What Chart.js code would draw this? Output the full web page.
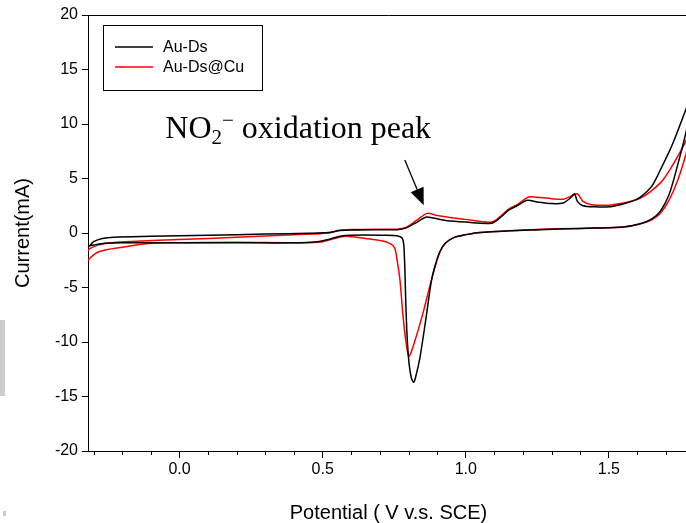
<!DOCTYPE html>
<html>
<head>
<meta charset="utf-8">
<script src="https://cdn.jsdelivr.net/npm/chart.js@4.4.0/dist/chart.umd.min.js"></script>
<style>
  html, body { margin: 0; padding: 0; background: #fff; overflow: hidden; }
  #wrap { width: 692px; height: 523px; }
</style>
</head>
<body>
<div id="wrap"><canvas id="cv"></canvas></div>
<script>
const seriesNames = ['Au-Ds', 'Au-Ds@Cu'];
const seriesColors = ['#000000', '#ff0000'];

// Au-Ds: anodic sweep (left -> right), then cathodic sweep (right -> left)
const auDsAnodicV = [-0.35, -0.32, -0.30, -0.27, -0.23, -0.1, 0.1, 0.3, 0.45, 0.52, 0.56, 0.6, 0.7, 0.76, 0.79, 0.83, 0.86, 0.89, 0.93, 1.0, 1.09, 1.12, 1.15, 1.18, 1.215, 1.25, 1.30, 1.34, 1.365, 1.38, 1.39, 1.41, 1.45, 1.50, 1.54, 1.58, 1.61, 1.65, 1.68, 1.72, 1.77, 1.80];
const auDsAnodicI = [-1.7, -1.3, -0.8, -0.5, -0.38, -0.3, -0.2, -0.1, -0.02, 0.05, 0.22, 0.28, 0.3, 0.3, 0.45, 1.0, 1.45, 1.35, 1.15, 1.0, 0.9, 1.4, 2.1, 2.5, 3.0, 2.85, 2.7, 2.75, 3.2, 3.6, 2.9, 2.5, 2.4, 2.4, 2.6, 2.9, 3.3, 4.3, 5.8, 8.0, 11.4, 13.5];
const auDsCathodicV = [1.77, 1.74, 1.71, 1.68, 1.65, 1.61, 1.55, 1.45, 1.35, 1.26, 1.15, 1.05, 1.0, 0.96, 0.93, 0.91, 0.895, 0.88, 0.86, 0.84, 0.825, 0.818, 0.81, 0.802, 0.795, 0.79, 0.786, 0.78, 0.76, 0.7, 0.6, 0.56, 0.52, 0.48, 0.4, 0.2, 0.0, -0.2, -0.26, -0.30, -0.32, -0.35];
const auDsCathodicI = [9.3, 6.2, 3.5, 2.0, 1.3, 0.85, 0.55, 0.45, 0.38, 0.3, 0.2, 0.05, -0.15, -0.4, -0.9, -1.7, -2.8, -4.4, -8.0, -11.4, -13.2, -13.7, -13.3, -12.0, -9.5, -6.0, -2.5, -0.6, -0.25, -0.2, -0.2, -0.3, -0.6, -0.8, -0.9, -0.9, -0.9, -0.9, -0.95, -1.1, -1.2, -1.7];

// Au-Ds@Cu
const auDsCuAnodicV = [-0.35, -0.32, -0.30, -0.27, -0.22, -0.15, 0.0, 0.2, 0.4, 0.52, 0.56, 0.6, 0.7, 0.76, 0.79, 0.83, 0.865, 0.9, 0.95, 1.0, 1.09, 1.12, 1.15, 1.18, 1.22, 1.26, 1.30, 1.34, 1.37, 1.39, 1.41, 1.44, 1.50, 1.54, 1.61, 1.68, 1.72, 1.77, 1.80];
const auDsCuAnodicI = [-3.8, -1.6, -1.25, -1.0, -0.85, -0.75, -0.6, -0.4, -0.15, 0.0, 0.25, 0.32, 0.35, 0.35, 0.5, 1.2, 1.8, 1.6, 1.4, 1.25, 1.0, 1.5, 2.2, 2.6, 3.3, 3.25, 3.15, 3.1, 3.4, 3.6, 2.9, 2.6, 2.55, 2.7, 3.2, 4.6, 6.1, 8.5, 10.5];
const auDsCuCathodicV = [1.77, 1.74, 1.71, 1.68, 1.65, 1.61, 1.55, 1.45, 1.35, 1.26, 1.15, 1.05, 1.0, 0.96, 0.93, 0.91, 0.88, 0.85, 0.82, 0.805, 0.80, 0.79, 0.78, 0.77, 0.76, 0.75, 0.72, 0.65, 0.58, 0.54, 0.5, 0.42, 0.2, 0.0, -0.1, -0.2, -0.28, -0.32, -0.35];
const auDsCuCathodicI = [7.3, 4.8, 3.0, 1.8, 1.2, 0.85, 0.55, 0.45, 0.4, 0.35, 0.2, 0.05, -0.15, -0.4, -0.9, -1.7, -4.3, -7.4, -10.1, -11.2, -11.3, -9.8, -7.4, -4.3, -2.5, -1.3, -0.8, -0.5, -0.3, -0.5, -0.8, -0.9, -0.85, -0.9, -0.95, -1.3, -1.7, -2.5, -3.8];

const xTicks = [0.0, 0.5, 1.0, 1.5];
const xMinorTicks = [-0.3, -0.2, -0.1, 0.1, 0.2, 0.3, 0.4, 0.6, 0.7, 0.8, 0.9, 1.1, 1.2, 1.3, 1.4, 1.6, 1.7];

function toPoints(v, i) {
  return v.map((x, k) => ({ x: x, y: i[k] }));
}

const SANS = '"Liberation Sans", Arial, sans-serif';
const SERIF = '"Liberation Serif", "Times New Roman", serif';
Chart.defaults.font.family = SANS;
Chart.defaults.color = '#000';

// top frame line, minor ticks, legend box, annotation, and the little gray scrap at the left edge
const extras = {
  id: 'extras',
  afterDraw(chart) {
    const ctx = chart.ctx;
    const a = chart.chartArea;
    const xs = chart.scales.x, ys = chart.scales.y;
    ctx.save();
    ctx.strokeStyle = '#000';
    ctx.lineWidth = 1;
    ctx.beginPath();
    ctx.moveTo(a.left, a.top + 0.5);
    ctx.lineTo(a.right, a.top + 0.5);
    ctx.stroke();

    ctx.beginPath();
    xMinorTicks.forEach(v => {
      const px = Math.round(xs.getPixelForValue(v)) + 0.5;
      ctx.moveTo(px, a.bottom);
      ctx.lineTo(px, a.bottom + 4);
    });
    ctx.stroke();

    // legend
    ctx.strokeRect(103.5, 25.5, 159, 65);
    ctx.font = '16px ' + SANS;
    ctx.textBaseline = 'middle';
    seriesNames.forEach((name, k) => {
      const y = 47 + k * 20;
      ctx.strokeStyle = seriesColors[k];
      ctx.lineWidth = 1.3;
      ctx.beginPath();
      ctx.moveTo(115, y);
      ctx.lineTo(153, y);
      ctx.stroke();
      ctx.fillStyle = '#000';
      ctx.fillText(name, 163, y + 1);
    });

    // annotation text: NO2- oxidation peak
    let tx = xs.getPixelForValue(-0.05);
    const ty = ys.getPixelForValue(8.75);
    ctx.fillStyle = '#000';
    ctx.textBaseline = 'alphabetic';
    ctx.font = '32px ' + SERIF;
    ctx.fillText('NO', tx, ty);
    tx += ctx.measureText('NO').width;
    ctx.font = '21px ' + SERIF;
    ctx.fillText('2', tx, ty + 6);
    const w2 = ctx.measureText('2').width;
    ctx.fillText('\u2212', tx + w2, ty - 11);
    tx += w2 + ctx.measureText('\u2212').width;
    ctx.font = '32px ' + SERIF;
    ctx.fillText(' oxidation peak', tx, ty);

    // arrow
    const x0 = xs.getPixelForValue(0.787), y0 = ys.getPixelForValue(6.7);
    const x1 = xs.getPixelForValue(0.853), y1 = ys.getPixelForValue(2.55);
    const ang = Math.atan2(y1 - y0, x1 - x0);
    const hl = 17, hw = 7;
    const bx = x1 - hl * Math.cos(ang), by = y1 - hl * Math.sin(ang);
    ctx.strokeStyle = '#000';
    ctx.lineWidth = 1.3;
    ctx.beginPath();
    ctx.moveTo(x0, y0);
    ctx.lineTo(bx, by);
    ctx.stroke();
    ctx.beginPath();
    ctx.moveTo(x1, y1);
    ctx.lineTo(bx + hw * Math.sin(ang), by - hw * Math.cos(ang));
    ctx.lineTo(bx - hw * Math.sin(ang), by + hw * Math.cos(ang));
    ctx.closePath();
    ctx.fill();

    ctx.fillStyle = '#cccccc';
    ctx.fillRect(0, 320, 5, 76);
    ctx.fillRect(3, 511, 3, 5);
    ctx.restore();
  }
};

new Chart(document.getElementById('cv'), {
  type: 'scatter',
  data: {
    datasets: [
      {
        label: seriesNames[0],
        data: toPoints(auDsAnodicV.concat(auDsCathodicV), auDsAnodicI.concat(auDsCathodicI)),
        borderColor: seriesColors[0],
        borderWidth: 1.5,
        showLine: true,
        pointRadius: 0,
        tension: 0.3,
      },
      {
        label: seriesNames[1],
        data: toPoints(auDsCuAnodicV.concat(auDsCuCathodicV), auDsCuAnodicI.concat(auDsCuCathodicI)),
        borderColor: seriesColors[1],
        borderWidth: 1.5,
        showLine: true,
        pointRadius: 0,
        tension: 0.3,
      },
    ],
  },
  options: {
    responsive: true,
    maintainAspectRatio: false,
    animation: false,
    layout: { padding: { top: 15, right: 3, left: 0, bottom: 0 } },
    plugins: { legend: { display: false }, tooltip: { enabled: false } },
    scales: {
      x: {
        type: 'linear',
        min: -0.32,
        max: 1.78,
        afterBuildTicks: (s) => { s.ticks = xTicks.map(v => ({ value: v })); },
        afterFit: (s) => { s.height = 72; },
        ticks: { font: { size: 16 }, color: '#000', padding: 2, maxRotation: 0,
          callback: (v) => Number(v).toFixed(1) },
        grid: { drawOnChartArea: false, tickLength: 7, color: '#000' },
        border: { color: '#000', width: 1 },
        title: { display: true, text: 'Potential ( V v.s. SCE)', font: { size: 20 }, color: '#000', padding: { top: 14, bottom: -2 } },
      },
      y: {
        min: -20,
        max: 20,
        afterFit: (s) => { s.width = 88; },
        ticks: { stepSize: 5, font: { size: 16 }, color: '#000', padding: 4 },
        grid: { drawOnChartArea: false, tickLength: 6, color: '#000' },
        border: { color: '#000', width: 1 },
        title: { display: true, text: 'Current(mA)', font: { size: 20 }, color: '#000', padding: { top: 11, bottom: 0 } },
      },
    },
  },
  plugins: [extras],
});
</script>
</body>
</html>
